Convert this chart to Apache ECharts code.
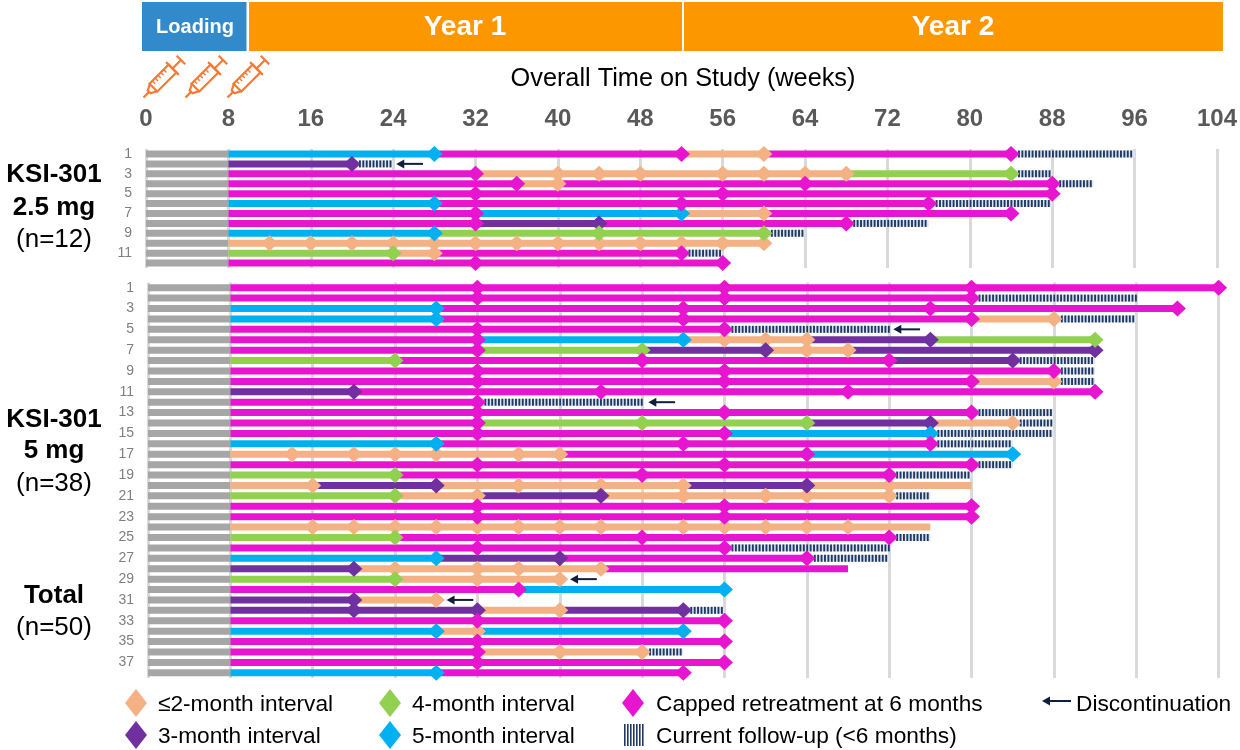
<!DOCTYPE html>
<html>
<head>
<meta charset="utf-8">
<style>
html, body { margin: 0; padding: 0; background: #fff; }
#chart { width: 1240px; height: 750px; }
</style>
<script src="https://cdn.jsdelivr.net/npm/echarts@6/dist/echarts.min.js"></script>
</head>
<body>
<div id="chart"></div>
<script>
// one row per patient: [week, type] = segment up to that week, then a diamond
// B 5-month, G 4-month, U 3-month, O <=2-month, P capped, F follow-up, lower case = no diamond
const rows25 = [
    [[28,'B'],[52,'P'],[60,'O'],[84,'P'],[96,'F']],
    [[20,'U'],[24,'F']],
    [[32,'P'],[40,'O'],[44,'O'],[48,'O'],[56,'O'],[60,'O'],[64,'O'],[68,'O'],[84,'G'],[88,'F']],
    [[36,'P'],[40,'O'],[64,'P'],[88,'P'],[92,'F']],
    [[32,'P'],[56,'P'],[88,'P']],
    [[28,'B'],[52,'P'],[76,'P'],[88,'F']],
    [[32,'P'],[52,'B'],[60,'O'],[84,'P']],
    [[32,'P'],[44,'U'],[68,'P'],[76,'F']],
    [[28,'B'],[44,'G'],[60,'G'],[64,'F']],
    [[12,'O'],[16,'O'],[20,'O'],[24,'O'],[28,'O'],[32,'O'],[36,'O'],[40,'O'],[44,'O'],[48,'O'],[52,'O'],[56,'O'],[60,'O']],
    [[24,'G'],[28,'O'],[52,'P'],[56,'F']],
    [[32,'P'],[56,'P']]
];
const rows5 = [
    [[32,'P'],[56,'P'],[80,'P'],[104,'P']],
    [[32,'P'],[56,'P'],[80,'P'],[96,'F']],
    [[28,'B'],[52,'P'],[76,'P'],[100,'P']],
    [[28,'B'],[52,'P'],[80,'P'],[88,'O'],[96,'F']],
    [[32,'P'],[56,'P'],[72,'F']],
    [[32,'P'],[52,'B'],[56,'O'],[60,'O'],[64,'O'],[76,'U'],[92,'G']],
    [[32,'P'],[48,'G'],[60,'U'],[64,'O'],[68,'O'],[92,'U']],
    [[24,'G'],[48,'P'],[72,'P'],[84,'U'],[92,'F']],
    [[32,'P'],[56,'P'],[88,'P'],[92,'F']],
    [[32,'P'],[56,'P'],[80,'P'],[88,'O'],[92,'F']],
    [[20,'U'],[44,'P'],[68,'P'],[92,'P']],
    [[32,'P'],[48,'F']],
    [[32,'P'],[56,'P'],[80,'P'],[88,'F']],
    [[32,'P'],[48,'G'],[64,'G'],[76,'U'],[84,'O'],[88,'F']],
    [[32,'P'],[56,'P'],[76,'B'],[88,'F']],
    [[28,'B'],[52,'P'],[76,'P'],[84,'F']],
    [[14,'O'],[20,'O'],[24,'O'],[28,'O'],[36,'O'],[40,'O'],[64,'P'],[84,'B']],
    [[32,'P'],[56,'P'],[80,'P'],[84,'F']],
    [[24,'G'],[48,'P'],[72,'P'],[80,'F']],
    [[16,'O'],[28,'U'],[36,'O'],[44,'O'],[52,'O'],[64,'U'],[72,'O'],[80,'o']],
    [[24,'G'],[32,'O'],[44,'U'],[52,'O'],[60,'O'],[64,'O'],[72,'O'],[76,'F']],
    [[32,'P'],[56,'P'],[80,'P']],
    [[32,'P'],[56,'P'],[80,'P']],
    [[16,'O'],[20,'O'],[24,'O'],[28,'O'],[32,'O'],[36,'O'],[40,'O'],[44,'O'],[52,'O'],[56,'O'],[60,'O'],[64,'O'],[68,'O'],[76,'o']],
    [[24,'G'],[48,'P'],[72,'P'],[76,'F']],
    [[32,'P'],[56,'P'],[72,'F']],
    [[28,'B'],[40,'U'],[64,'P'],[72,'F']],
    [[20,'U'],[24,'O'],[32,'O'],[36,'O'],[44,'O'],[68,'p']],
    [[24,'G'],[32,'O'],[40,'O']],
    [[36,'P'],[56,'B']],
    [[20,'U'],[28,'O']],
    [[20,'U'],[32,'U'],[40,'O'],[52,'U'],[56,'F']],
    [[32,'P'],[56,'P']],
    [[28,'B'],[32,'O'],[52,'B']],
    [[32,'P'],[56,'P']],
    [[32,'P'],[40,'O'],[48,'O'],[52,'F']],
    [[32,'P'],[56,'P']],
    [[28,'B'],[52,'P']]
];
// [row index, arrow tip week, arrow tail week]
const stops25 = [[1, 24.3, 26.9]];
const stops5 = [[4, 72.4, 75], [11, 48.6, 51.2], [28, 41, 43.6], [30, 29, 31.6]];
const weekTicks = [0, 104];
const typeColors = {L: '#a6a6a6', O: '#f4b183', U: '#7030a0', G: '#92d050', B: '#00b0f0', P: '#e815d0'};
const typeNames = {O: '≤2-month interval', U: '3-month interval', G: '4-month interval', B: '5-month interval', P: 'Capped retreatment at 6 months'};
const FONT = '"Liberation Sans", Arial, sans-serif';
const LOADING_WEEKS = 8;

function renderBar(params, api) {
    const start = api.coord([api.value(0), api.value(2)]);
    const end = api.coord([api.value(1), api.value(2)]);
    const h = 7;
    const type = api.value(3);
    if (type === 'F') {
        const kids = [{
            type: 'rect',
            shape: {x: start[0], y: start[1] - h / 2, width: end[0] - start[0], height: h},
            style: {fill: '#dfe6f1'}
        }];
        for (let x = start[0] + 7; x < end[0] - 1; x += 3.4) {
            kids.push({
                type: 'rect',
                shape: {x: x, y: start[1] - h / 2, width: 1.9, height: h},
                style: {fill: '#1f3864'}
            });
        }
        return {type: 'group', children: kids};
    }
    return {
        type: 'rect',
        shape: {x: start[0], y: start[1] - h / 2, width: end[0] - start[0], height: h},
        style: {fill: typeColors[type.toUpperCase()]}
    };
}

function renderArrow(params, api) {
    const tip = api.coord([api.value(1), api.value(0)]);
    const tail = api.coord([api.value(2), api.value(0)]);
    const c = '#0f1f3d';
    return {
        type: 'group',
        children: [
            {type: 'line', shape: {x1: tip[0] + 4, y1: tip[1], x2: tail[0], y2: tail[1]}, style: {stroke: c, lineWidth: 2}},
            {type: 'polygon', shape: {points: [[tip[0], tip[1]], [tip[0] + 8, tip[1] - 4.5], [tip[0] + 8, tip[1] + 4.5]]}, style: {fill: c}}
        ]
    };
}

function panelSeries(rows, stops, idx) {
    const bars = [];
    const markers = {O: [], U: [], G: [], B: [], P: []};
    rows.forEach((row, r) => {
        bars.push([0, LOADING_WEEKS, r, 'L']);
        let prev = LOADING_WEEKS;
        row.forEach(([week, type]) => {
            bars.push([prev, week, r, type]);
            prev = week;
            if (markers[type]) markers[type].push([week, r]);
        });
    });
    const out = [{
        type: 'custom', xAxisIndex: idx, yAxisIndex: idx, z: 2, clip: false,
        renderItem: renderBar, encode: {x: [0, 1], y: 2}, data: bars
    }, {
        type: 'custom', xAxisIndex: idx, yAxisIndex: idx, z: 4, clip: false,
        renderItem: renderArrow, encode: {x: [1, 2], y: 0}, data: stops
    }];
    Object.keys(markers).forEach(t => {
        out.push({
            name: typeNames[t], type: 'scatter', xAxisIndex: idx, yAxisIndex: idx, z: 3,
            symbol: 'diamond', symbolSize: [17, 16], clip: false,
            itemStyle: {color: typeColors[t], opacity: 1},
            data: markers[t]
        });
    });
    return out;
}

function xAxisFor(idx, showLabels) {
    return {
        type: 'value', gridIndex: idx, min: weekTicks[0], max: weekTicks[1], interval: 8,
        position: 'top',
        axisLine: {show: false}, axisTick: {show: false},
        splitLine: {show: true, lineStyle: {color: '#d9d9d9', width: 3}},
        axisLabel: {show: showLabels, margin: 18, color: '#595959', fontFamily: FONT, fontWeight: 'bold', fontSize: 24}
    };
}

function yAxisFor(idx, count) {
    return {
        type: 'category', gridIndex: idx, inverse: true,
        data: Array.from({length: count}, (_, i) => String(i + 1)),
        axisLine: {show: false}, axisTick: {show: false},
        axisLabel: {interval: 1, margin: 14, color: '#7f7f7f', fontFamily: FONT, fontSize: 14}
    };
}

function txt(x, y, text, size, opts) {
    return {
        type: 'text', x: x, y: y + 1.5,
        style: Object.assign({text: text, font: (opts && opts.weight || 'normal') + ' ' + size + 'px ' + FONT,
            fill: '#000', textAlign: 'center', textVerticalAlign: 'middle'}, opts && opts.style)
    };
}

function band(x, y, w, h, fill) {
    return {type: 'rect', shape: {x: x, y: y, width: w, height: h}, style: {fill: fill}};
}

function diamondKey(x, y, color) {
    return {type: 'polygon', shape: {points: [[x, y - 14], [x + 11, y], [x, y + 14], [x - 11, y]]}, style: {fill: color}};
}

function syringe(cx, cy) {
    const st = {stroke: '#f47a36', lineWidth: 2.2, fill: null};
    const kids = [
        {type: 'polyline', shape: {points: [[-29, 0], [-21, 0]]}, style: st},
        {type: 'polyline', shape: {points: [[-15, -5], [-21, -2], [-21, 2], [-15, 5]]}, style: st},
        {type: 'rect', shape: {x: -15, y: -5.5, width: 27, height: 11}, style: st},
        {type: 'polyline', shape: {points: [[12, -9], [12, 9]]}, style: st},
        {type: 'polyline', shape: {points: [[12, 0], [24, 0]]}, style: st},
        {type: 'polyline', shape: {points: [[24, -6], [24, 6]]}, style: st}
    ];
    for (let t = -11; t <= 8; t += 4) {
        kids.push({type: 'polyline', shape: {points: [[t, -5.5], [t, -1.5]]}, style: {stroke: '#f47a36', lineWidth: 1.4}});
    }
    return {type: 'group', x: cx, y: cy, rotation: Math.PI / 4, children: kids};
}

function followKey(x, y) {
    const kids = [];
    for (let i = 0; i < 7; i++) {
        kids.push({type: 'rect', shape: {x: x + i * 3, y: y - 11, width: 1.6, height: 22}, style: {fill: '#1f3864'}});
    }
    return {type: 'group', children: kids};
}

const white = {fill: '#fff'};
const graphics = [
    band(142, 2, 104.5, 49, '#338acb'),
    band(249, 2, 433, 49, '#fc9700'),
    band(684, 2, 539, 49, '#fc9700'),
    txt(195, 26, 'Loading', 20, {weight: 'bold', style: white}),
    txt(465, 26, 'Year 1', 28, {weight: 'bold', style: white}),
    txt(953, 26, 'Year 2', 28, {weight: 'bold', style: white}),
    syringe(164, 77), syringe(206, 77), syringe(248, 77),
    txt(683, 78, 'Overall Time on Study (weeks)', 25.3),
    txt(54, 173, 'KSI-301', 26, {weight: 'bold'}),
    txt(54, 206, '2.5 mg', 26, {weight: 'bold'}),
    txt(54, 238, '(n=12)', 26),
    txt(54, 418, 'KSI-301', 26, {weight: 'bold'}),
    txt(54, 449, '5 mg', 26, {weight: 'bold'}),
    txt(54, 482, '(n=38)', 26),
    txt(54, 594, 'Total', 26, {weight: 'bold'}),
    txt(54, 626, '(n=50)', 26),
    diamondKey(136, 703, typeColors.O),
    diamondKey(136, 735, typeColors.U),
    diamondKey(390, 703, typeColors.G),
    diamondKey(390, 735, typeColors.B),
    diamondKey(633, 703, typeColors.P),
    followKey(624, 735)
];
const leftText = {textAlign: 'left'};
[[158, 703, typeNames.O], [158, 735, typeNames.U], [412, 703, typeNames.G], [412, 735, typeNames.B],
    [656, 703, typeNames.P], [656, 735, 'Current follow-up (<6 months)'], [1076, 703, 'Discontinuation']].forEach(([x, y, s]) => {
    graphics.push(txt(x, y, s, 22.7, {style: leftText}));
});
graphics.push(
    {type: 'line', shape: {x1: 1046, y1: 701, x2: 1071, y2: 701}, style: {stroke: '#0f1f3d', lineWidth: 2}},
    {type: 'polygon', shape: {points: [[1042, 701], [1050, 696.5], [1050, 705.5]]}, style: {fill: '#0f1f3d'}}
);

const myChart = echarts.init(document.getElementById('chart'), null, {renderer: 'canvas'});
const option = {
    animation: false,
    backgroundColor: '#fff',
    grid: [
        {left: 146, top: 149, width: 1072.6, height: 119},
        {left: 148, top: 282.5, width: 1070.6, height: 395.5}
    ],
    xAxis: [xAxisFor(0, true), xAxisFor(1, false)],
    yAxis: [yAxisFor(0, rows25.length), yAxisFor(1, rows5.length)],
    series: panelSeries(rows25, stops25, 0).concat(panelSeries(rows5, stops5, 1)),
    graphic: {elements: graphics}
};
myChart.setOption(option);
</script>
</body>
</html>
